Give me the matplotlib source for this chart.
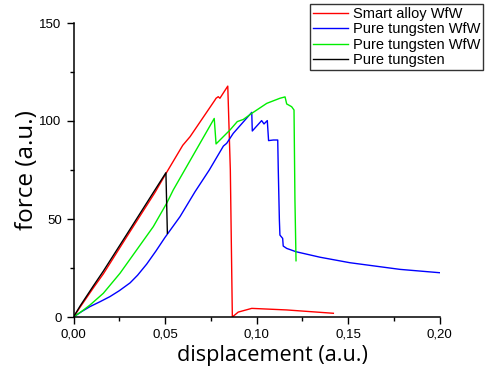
import matplotlib
matplotlib.use("Agg")
import matplotlib.pyplot as plt
from matplotlib.ticker import MultipleLocator, FuncFormatter

# Data
red_x = [0, 0.0036, 0.0108, 0.0163, 0.029, 0.0445, 0.0504, 0.0597, 0.0637, 0.0773, 0.0779, 0.0791, 0.0800, 0.0843, 0.0857, 0.0868, 0.0900, 0.0974, 0.1165, 0.1420]
red_y = [0, 5.0, 14.8, 22.0, 40.8, 63.5, 73.0, 87.6, 92.0, 110.7, 111.6, 112.4, 111.6, 117.8, 75.0, 0.0, 2.5, 4.4, 3.6, 1.9]

blue_x = [0, 0.0045, 0.009, 0.0145, 0.0199, 0.025, 0.0309, 0.035, 0.040, 0.045, 0.050, 0.0582, 0.0664, 0.0742, 0.0819, 0.0837, 0.0873, 0.0974, 0.0977, 0.1028, 0.1041, 0.1059, 0.1066, 0.1092, 0.1116, 0.1119, 0.1125, 0.1128, 0.1143, 0.1146, 0.1165, 0.1216, 0.1347, 0.151, 0.1784, 0.2000]
blue_y = [0, 2.8, 5.3, 7.8, 10.4, 13.4, 17.4, 21.3, 27.0, 33.6, 40.6, 51.2, 63.9, 75.0, 87.2, 88.6, 93.7, 104.4, 94.9, 100.2, 98.5, 100.2, 90.0, 90.3, 90.3, 75.0, 49.5, 41.8, 40.1, 36.2, 35.0, 33.3, 30.5, 27.7, 24.3, 22.6]

green_x = [0, 0.0045, 0.009, 0.0163, 0.0254, 0.0345, 0.0436, 0.0509, 0.0545, 0.0769, 0.0779, 0.0855, 0.0895, 0.0928, 0.0974, 0.1056, 0.1128, 0.1156, 0.1165, 0.1192, 0.1205, 0.1210, 0.1216]
green_y = [0, 2.9, 6.1, 12.1, 22.3, 34.2, 46.1, 58.0, 64.8, 101.3, 88.3, 95.4, 99.7, 100.8, 103.9, 109.0, 111.6, 112.3, 108.7, 107.3, 105.6, 60.0, 28.7]

black_x = [0, 0.0036, 0.0108, 0.0163, 0.029, 0.0445, 0.0505, 0.0513]
black_y = [0, 5.6, 15.8, 23.4, 42.0, 64.8, 73.6, 42.7]

labels = ["Smart alloy WfW", "Pure tungsten WfW", "Pure tungsten WfW", "Pure tungsten"]
colors = ["#ff0000", "#0000ff", "#00ee00", "#000000"]

fig = plt.figure(figsize=(4.87, 3.70), dpi=100)
ax = fig.add_axes([73.5/487, 1-317/370, (439.5-73.5)/487, (317-23)/370])

series = [(red_x, red_y), (blue_x, blue_y), (green_x, green_y), (black_x, black_y)]
for (x, y), c, lab in zip(series, colors, labels):
    ax.plot(x, y, color=c, lw=1.0, label=lab)

ax.set_xlim(0, 0.20)
ax.set_ylim(0, 150)
ax.xaxis.set_major_locator(MultipleLocator(0.05))
ax.xaxis.set_minor_locator(MultipleLocator(0.025))
ax.yaxis.set_major_locator(MultipleLocator(50))
ax.yaxis.set_minor_locator(MultipleLocator(25))
ax.xaxis.set_major_formatter(FuncFormatter(lambda v, p: f"{v:.2f}".replace(".", ",")))
ax.yaxis.set_major_formatter(FuncFormatter(lambda v, p: f"{int(round(v))}"))

for s in ["top", "right"]:
    ax.spines[s].set_visible(False)
for s in ["left", "bottom"]:
    ax.spines[s].set_linewidth(1.1)

ax.tick_params(which="major", direction="out", length=5, width=1.0, labelsize=9.5)
ax.tick_params(which="minor", direction="out", length=3, width=1.0)
for t in ax.get_xticklabels() + ax.get_yticklabels():
    t.set_fontfamily("Liberation Sans")

fig.text(272/487, 1-356/370, "displacement (a.u.)", fontfamily="Open Sans",
         fontsize=15.6, ha="center", va="center")
fig.text(27/487, 1-170/370, "force (a.u.)", fontfamily="Open Sans",
         fontsize=17.5, ha="center", va="center", rotation=90)

leg = fig.legend(loc="upper right", bbox_to_anchor=(483/487, 1-4/370),
                 prop={"family": "Liberation Sans", "size": 10.5},
                 frameon=True, fancybox=False, edgecolor="black",
                 borderpad=0.2, labelspacing=0.1, handlelength=2.4,
                 handletextpad=0.35, borderaxespad=0)
leg.get_frame().set_linewidth(1.0)

fig.savefig("out.png", dpi=100)
